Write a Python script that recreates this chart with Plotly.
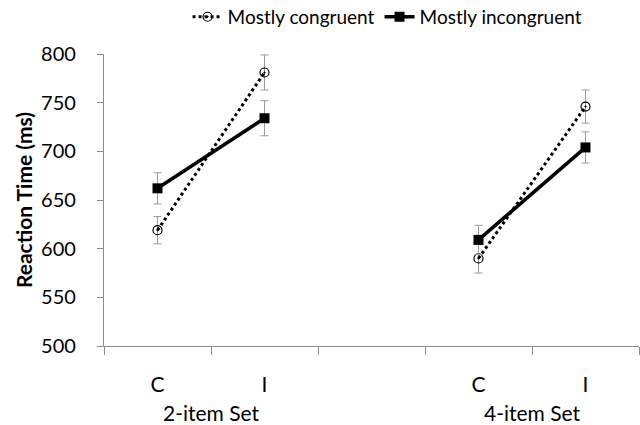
import plotly.graph_objects as go

set_labels = ["2-item Set", "4-item Set"]
conditions = ["C", "I"]
# Mostly congruent
mc_2 = [619, 781]
mc_2_err = [14, 18]
mc_4 = [590, 746]
mc_4_err = [15, 17]
# Mostly incongruent
mi_2 = [662, 734]
mi_2_err = [16, 18]
mi_4 = [609, 704]
mi_4_err = [15, 16]

y_ticks = [500, 550, 600, 650, 700, 750, 800]

FONT = "Lato, 'Open Sans', sans-serif"
GRAY = "#9a9a9a"
AX = "#8c8c8c"

# x positions: each set occupies two slots, with an empty slot between sets
x_2 = [0, 1]
x_4 = [3, 4]
boundaries = [-0.5, 0.5, 1.5, 2.5, 3.5, 4.5]

fig = go.Figure()

series = [
    ("Mostly congruent", [(x_2, mc_2, mc_2_err), (x_4, mc_4, mc_4_err)],
     dict(color="black", width=3, dash="dot"),
     dict(symbol="circle-open-dot", size=9, color="black", line=dict(width=1.2, color="black"))),
    ("Mostly incongruent", [(x_2, mi_2, mi_2_err), (x_4, mi_4, mi_4_err)],
     dict(color="black", width=3.5),
     dict(symbol="square", size=10, color="black")),
]

for name, groups, line, marker in series:
    for gi, (xs, ys, es) in enumerate(groups):
        fig.add_trace(go.Scatter(
            x=xs, y=ys, mode="lines+markers", name=name,
            line=line, marker=marker,
            error_y=dict(type="data", array=es, visible=True, color=GRAY, thickness=1, width=4),
            showlegend=(gi == 0), legendgroup=name,
        ))

tick_vals = x_2 + x_4
tick_text = conditions + conditions

fig.update_layout(
    width=640, height=425,
    margin=dict(l=104, r=1, t=54, b=79, autoexpand=False),
    plot_bgcolor="white", paper_bgcolor="white",
    font=dict(family=FONT, color="black"),
    showlegend=True,
    legend=dict(orientation="h", x=0.53, xanchor="center", y=1.127, yanchor="middle",
                font=dict(size=19, family=FONT), itemwidth=30,
                bgcolor="rgba(0,0,0,0)"),
    xaxis=dict(range=[-0.5, 4.5], tickvals=tick_vals, ticktext=tick_text,
               ticks="", showgrid=False, zeroline=False, automargin=False,
               showline=True, linecolor=AX, linewidth=1.3,
               tickfont=dict(size=21, family=FONT),
               minor=dict(tickvals=boundaries, ticks="outside",
                          ticklen=8, tickcolor=AX, tickwidth=1.3, showgrid=False),
               ticklabelstandoff=20),
    yaxis=dict(range=[500, 800], tickvals=y_ticks, ticks="outside", ticklen=6,
               tickcolor=AX, tickwidth=1.3, showline=True, linecolor=AX, linewidth=1.3,
               showgrid=False, zeroline=False, automargin=False,
               tickfont=dict(size=20, family=FONT),
               ticklabelstandoff=17,
               title=dict(text="<b>Reaction Time (ms)</b>", font=dict(size=21, family=FONT), standoff=2)),
)

for xs, lab in zip([x_2, x_4], set_labels):
    fig.add_annotation(x=sum(xs) / 2, y=-0.229, xref="x", yref="paper", text=lab,
                       showarrow=False, font=dict(size=21, family=FONT), yanchor="middle")

fig.write_html("out.html", config={"displayModeBar": False},
               post_script="document.body.style.margin='0';document.body.style.overflow='hidden';")
